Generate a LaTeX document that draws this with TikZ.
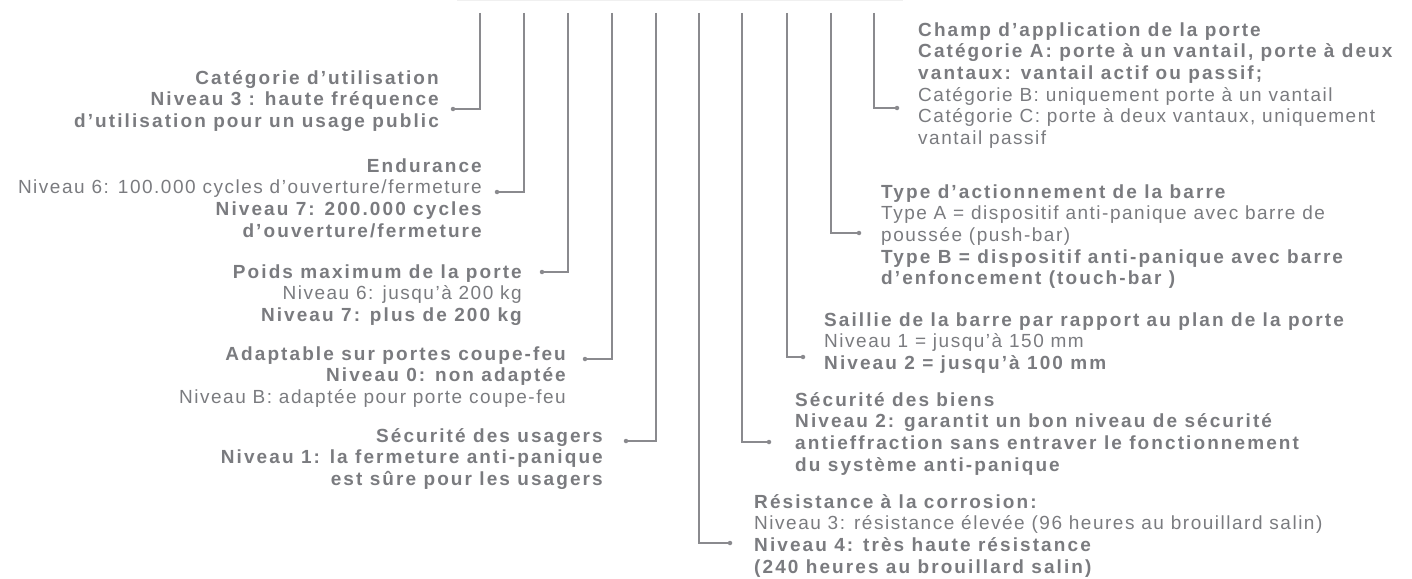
\documentclass[tikz,border=0pt]{standalone}
\usepackage{fontspec}
\setmainfont{Liberation Sans}
\newfontfamily\regfont[LetterSpace=8]{Liberation Sans}
\newfontfamily\boldfont[LetterSpace=11]{Liberation Sans Bold}
\definecolor{txtgray}{RGB}{122,123,127}
\definecolor{linegray}{RGB}{138,138,142}
\newcommand{\bl}[1]{{\boldfont #1}}

\tikzset{
  leader/.style={linegray, line width=1.4pt},
  tipdot/.style={circle, fill=linegray, inner sep=0pt, minimum size=4.5pt},
  txtL/.style={anchor=base east, align=right, inner sep=0pt, text=txtgray,
    font=\fontsize{19}{21.7}\selectfont\regfont},
  txtR/.style={txtL, anchor=base west, align=left},
}

\begin{document}
\begin{tikzpicture}[x=1pt, y=-1pt]
\useasboundingbox (0,0) rectangle (1412,578);

% faint edge at the top
\draw[gray!12, line width=1.5pt] (457,0.5) -- (903,0.5);

% tops of the leaders
\foreach \n/\x in {1/480,2/524,3/568,4/612,5/656,6/699,7/742,8/787,9/831,10/874}
  \coordinate (t\n) at (\x,13);

% categorie d'utilisation (base = last line)
\node[txtL] (usage) at (439,127.4) {\bl{Catégorie d’utilisation}\\
  \bl{Niveau 3 : haute fréquence}\\
  \bl{d’utilisation pour un usage public}};
\node[tipdot] (d1) at (453,109) {};
\draw[leader] (t1) |- (d1);

% endurance
\node[txtL] (endur) at (482,237.1) {\bl{Endurance}\\
  Niveau 6: 100.000 cycles d’ouverture/fermeture\\
  \bl{Niveau 7: 200.000 cycles}\\
  \bl{d’ouverture/fermeture}};
\node[tipdot] (d2) at (497,192) {};
\draw[leader] (t2) |- (d2);

% poids
\node[txtL] (poids) at (522,321.4) {\bl{Poids maximum de la porte}\\
  Niveau 6: jusqu’à 200 kg\\
  \bl{Niveau 7: plus de 200 kg}};
\node[tipdot] (d3) at (542,272) {};
\draw[leader] (t3) |- (d3);

% coupe-feu
\node[txtL] (feu) at (566,403.4) {\bl{Adaptable sur portes coupe-feu}\\
  \bl{Niveau 0: non adaptée}\\
  Niveau B: adaptée pour porte coupe-feu};
\node[tipdot] (d4) at (585,359) {};
\draw[leader] (t4) |- (d4);

% securite des usagers
\node[txtL] (usagers) at (603,485.4) {\bl{Sécurité des usagers}\\
  \bl{Niveau 1: la fermeture anti-panique}\\
  \bl{est sûre pour les usagers}};
\node[tipdot] (d5) at (626,441) {};
\draw[leader] (t5) |- (d5);

% corrosion
\node[txtR] (corr) at (754,573.1) {\bl{Résistance à la corrosion:}\\
  Niveau 3: résistance élevée (96 heures au brouillard salin)\\
  \bl{Niveau 4: très haute résistance}\\
  \bl{(240 heures au brouillard salin)}};
\node[tipdot] (d6) at (730,543) {};
\draw[leader] (t6) |- (d6);

% securite des biens
\node[txtR] (biens) at (795,471.1) {\bl{Sécurité des biens}\\
  \bl{Niveau 2: garantit un bon niveau de sécurité}\\
  \bl{antieffraction sans entraver le fonctionnement}\\
  \bl{du système anti-panique}};
\node[tipdot] (d7) at (769,442) {};
\draw[leader] (t7) |- (d7);

% saillie
\node[txtR] (saillie) at (824,369.4) {\bl{Saillie de la barre par rapport au plan de la porte}\\
  Niveau 1 = jusqu’à 150 mm\\
  \bl{Niveau 2 = jusqu’à 100 mm}};
\node[tipdot] (d8) at (803,357) {};
\draw[leader] (t8) |- (d8);

% type d'actionnement
\node[txtR] (barre) at (881,284.8) {\bl{Type d’actionnement de la barre}\\
  Type A = dispositif anti-panique avec barre de\\
  poussée (push-bar)\\
  \bl{Type B = dispositif anti-panique avec barre}\\
  \bl{d’enfoncement (touch-bar )}};
\node[tipdot] (d9) at (859,233) {};
\draw[leader] (t9) |- (d9);

% champ d'application
\node[txtR] (champ) at (918,144.5) {\bl{Champ d’application de la porte}\\
  \bl{Catégorie A: porte à un vantail, porte à deux}\\
  \bl{vantaux: vantail actif ou passif;}\\
  Catégorie B: uniquement porte à un vantail\\
  Catégorie C: porte à deux vantaux, uniquement\\
  vantail passif};
\node[tipdot] (d10) at (897,108) {};
\draw[leader] (t10) |- (d10);

\end{tikzpicture}
\end{document}
